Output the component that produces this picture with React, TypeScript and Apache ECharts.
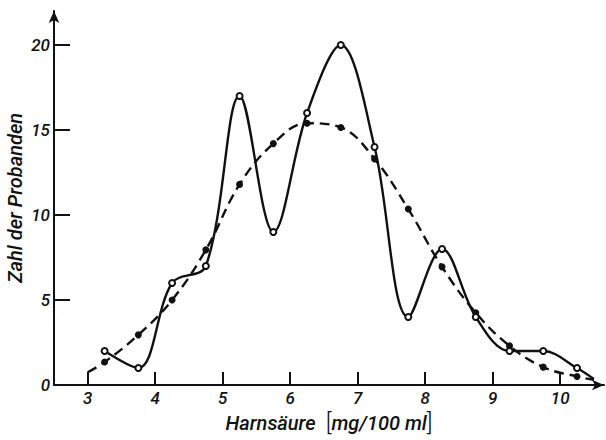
import React, { useEffect, useRef } from "react";
import * as echarts from "echarts";

const xTicks = [3, 4, 5, 6, 7, 8, 9, 10];
const yTicks = [0, 5, 10, 15, 20];

const observedX = [3.25, 3.75, 4.25, 4.75, 5.25, 5.75, 6.25, 6.75, 7.25, 7.75, 8.25, 8.75, 9.25, 9.75, 10.25, 10.5];
const observedY = [2, 1, 6, 7, 17, 9, 16, 20, 14, 4, 8, 4, 2, 2, 1, 0.35];

const fittedX = [3.0, 3.25, 3.75, 4.25, 4.75, 5.25, 5.75, 6.25, 6.75, 7.25, 7.75, 8.25, 8.75, 9.25, 9.75, 10.25, 10.5];
const fittedY = [0.75, 1.35, 2.95, 5, 7.95, 11.8, 14.2, 15.4, 15.15, 13.3, 10.35, 6.95, 4.25, 2.3, 1.05, 0.5, 0.3];

const FONT = "Roboto, 'DejaVu Sans', sans-serif";

export default function App() {
  const ref = useRef<HTMLDivElement>(null);
  useEffect(() => {
    if (!ref.current) return;
    const chart = echarts.init(ref.current, null, { renderer: "svg" });
    const obs = observedX.map((x, i) => ({
      value: [x, observedY[i]],
      symbol: i === observedX.length - 1 ? "none" : "emptyCircle",
    }));
    const fit = fittedX.map((x, i) => ({
      value: [x, fittedY[i]],
      symbol: i === 0 || i === fittedX.length - 1 ? "none" : "circle",
    }));
    chart.setOption({
      animation: false,
      backgroundColor: "#fff",
      grid: { left: 54, right: 2, top: 11, bottom: 55, outerBoundsMode: "none", containLabel: false },
      xAxis: {
        type: "value",
        min: 2.5,
        max: 10.65,
        name: "{t|Harnsäure}   {b|[}{t|mg/100 ml}{b|]}",
        nameLocation: "middle",
        nameGap: 24,
        nameTextStyle: {
          verticalAlign: "top",
          rich: {
            t: { fontFamily: FONT, fontStyle: "italic", fontWeight: 500, fontSize: 20, color: "#111" },
            b: { fontFamily: FONT, fontWeight: 300, fontSize: 24, color: "#111" },
          },
        },
        axisLine: { show: true, lineStyle: { color: "#111", width: 2 }, symbol: ["none", "arrow"], symbolSize: [8, 12] },
        axisTick: { show: true, inside: true, length: 13, customValues: xTicks, lineStyle: { color: "#111", width: 2 } },
        axisLabel: { customValues: xTicks, margin: 4, fontFamily: FONT, fontStyle: "italic", fontWeight: 500, fontSize: 17, color: "#111" },
        splitLine: { show: false },
      },
      yAxis: {
        type: "value",
        min: 0,
        max: 22,
        name: "Zahl der Probanden",
        nameLocation: "middle",
        nameGap: 29,
        nameMoveOverlap: false,
        nameTextStyle: { fontFamily: FONT, fontStyle: "italic", fontWeight: 500, fontSize: 20, color: "#111" },
        axisLine: { show: true, lineStyle: { color: "#111", width: 2 }, symbol: ["none", "arrow"], symbolSize: [8, 12] },
        axisTick: { show: true, inside: true, length: 16, customValues: yTicks, lineStyle: { color: "#111", width: 2 } },
        axisLabel: { customValues: yTicks, margin: 4, align: "right", fontFamily: FONT, fontStyle: "italic", fontWeight: 500, fontSize: 17, color: "#111" },
        splitLine: { show: false },
      },
      series: [
        {
          type: "line",
          data: fit,
          smooth: 0.4,
          symbolSize: 7,
          lineStyle: { color: "#111", width: 2.4, type: [10, 6] },
          itemStyle: { color: "#111" },
          z: 2,
        },
        {
          type: "line",
          data: obs,
          smooth: 0.35,
          symbolSize: 6,
          lineStyle: { color: "#111", width: 2.4 },
          itemStyle: { color: "#111", borderWidth: 1.5 },
          z: 3,
        },
      ],
    });
    return () => chart.dispose();
  }, []);
  return <div ref={ref} style={{ position: "fixed", left: 0, top: 0, width: 606, height: 440 }} />;
}
